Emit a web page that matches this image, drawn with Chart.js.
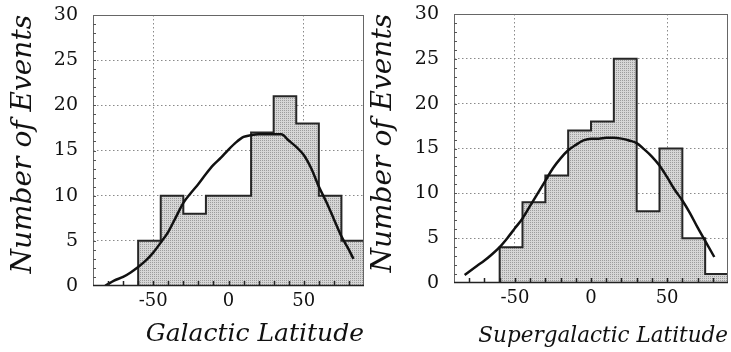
<!DOCTYPE html>
<html>
<head>
<meta charset="utf-8">
<script src="https://cdn.jsdelivr.net/npm/chart.js@4/dist/chart.umd.min.js"></script>
<style>
  html, body { margin: 0; padding: 0; background: #fff; }
  #wrap { position: relative; width: 731px; height: 352px; }
  canvas { position: absolute; top: 0; }
</style>
</head>
<body>
<div id="wrap">
  <canvas id="galChart" width="366" height="352" style="left:0"></canvas>
  <canvas id="sgChart" width="365" height="352" style="left:366px"></canvas>
</div>
<script>
// Histogram bins (15 degree wide), left edges plus final right edge
const binEdges = [-90, -75, -60, -45, -30, -15, 0, 15, 30, 45, 60, 75, 90];
const galCounts = [0, 0, 5, 10, 8, 10, 10, 17, 21, 18, 10, 5];
const sgCounts = [0, 0, 4, 9, 12, 17, 18, 25, 8, 15, 5, 1];

// Expected distribution curves
const galFitX = [-82, -76, -70, -65, -60, -55, -50, -45, -40, -35, -30, -25, -20, -15, -10, -5, 0, 5, 10, 15, 20, 25, 30, 35, 40, 45, 50, 55, 60, 65, 70, 75, 80, 83];
const galFitY = [0, 0.6, 1.0, 1.5, 2.1, 2.8, 3.7, 4.8, 6.0, 7.6, 9.2, 10.3, 11.3, 12.4, 13.4, 14.2, 15.1, 15.9, 16.5, 16.7, 16.8, 16.8, 16.8, 16.8, 16.1, 15.4, 14.5, 13.0, 11.0, 9.3, 7.4, 5.5, 4.0, 3.0];
const sgFitX = [-83, -75, -70, -65, -60, -55, -50, -45, -40, -35, -30, -25, -20, -15, -10, -5, 0, 5, 10, 15, 20, 25, 30, 35, 40, 45, 50, 55, 60, 65, 70, 75, 81];
const sgFitY = [0.9, 1.9, 2.5, 3.2, 4.0, 5.0, 6.1, 7.2, 8.6, 10.0, 11.4, 12.8, 13.9, 14.8, 15.4, 15.9, 16.1, 16.1, 16.2, 16.2, 16.1, 15.9, 15.6, 14.9, 14.1, 13.1, 11.8, 10.4, 9.2, 7.8, 6.2, 4.7, 2.9];

// Axis ticks
const xTickValues = [-50, 0, 50];
const xMinorTicks = [-80, -70, -60, -50, -40, -30, -20, -10, 0, 10, 20, 30, 40, 50, 60, 70, 80];
const yMinorTicks = Array.from({ length: 29 }, (_, i) => i + 1);

// stippled grey fill like the printed figure
function stipple() {
  const c = document.createElement("canvas");
  c.width = 2; c.height = 2;
  const g = c.getContext("2d");
  g.fillStyle = "#d6d6d6";
  g.fillRect(0, 0, 2, 2);
  g.fillStyle = "#9c9c9c";
  g.fillRect(0, 0, 1, 1);
  return g.createPattern(c, "repeat");
}

// frame around the plot plus the small inward ticks
const framePlugin = {
  id: "frame",
  afterDatasetsDraw(chart) {
    const { ctx, chartArea: a, scales } = chart;
    ctx.save();
    ctx.strokeStyle = "#666";
    ctx.lineWidth = 1;
    ctx.strokeRect(a.left + 0.5, a.top + 0.5, a.right - a.left - 1, a.bottom - a.top - 1);

    ctx.strokeStyle = "#555";
    ctx.beginPath();
    yMinorTicks.forEach(v => {
      const y = Math.round(scales.y.getPixelForValue(v)) + 0.5;
      ctx.moveTo(a.left, y);
      ctx.lineTo(a.left + 3, y);
    });
    ctx.stroke();

    ctx.strokeStyle = "#222";
    ctx.lineWidth = 1.5;
    ctx.beginPath();
    xMinorTicks.forEach(v => {
      const x = Math.round(scales.x.getPixelForValue(v)) + 0.5;
      ctx.moveTo(x, a.bottom);
      ctx.lineTo(x, a.bottom - 5);
    });
    ctx.moveTo(a.left, a.bottom - 0.5);
    ctx.lineTo(a.right, a.bottom - 0.5);
    ctx.stroke();
    ctx.restore();
  }
};

function makeChart(id, counts, fitX, fitY, xTitle, opt) {
  const histData = binEdges.map((x, i) => ({ x, y: i < counts.length ? counts[i] : counts[counts.length - 1] }));
  const fitData = fitX.map((x, i) => ({ x, y: fitY[i] }));
  const gridColor = c => (c.tick.value === 0 || c.tick.value === 30) ? "rgba(0,0,0,0)" : "#8a8a8a";

  return new Chart(document.getElementById(id), {
    type: "line",
    data: {
      datasets: [
        {
          data: fitData,
          borderColor: "#111",
          borderWidth: 2.5,
          pointRadius: 0,
          cubicInterpolationMode: "monotone",
          fill: false
        },
        {
          data: histData,
          stepped: true,
          borderColor: "#262626",
          borderWidth: 2,
          pointRadius: 0,
          fill: "origin",
          backgroundColor: stipple()
        }
      ]
    },
    options: {
      responsive: false,
      animation: false,
      devicePixelRatio: 1,
      layout: { padding: { top: opt.top, right: opt.right, left: 0, bottom: 0 } },
      plugins: { legend: { display: false }, tooltip: { enabled: false } },
      scales: {
        x: {
          type: "linear",
          min: -90,
          max: 90,
          afterBuildTicks: s => { s.ticks = xTickValues.map(v => ({ value: v })); },
          afterFit: s => { s.height = opt.xHeight; },
          grid: { color: gridColor, lineWidth: 1, drawTicks: false },
          border: { display: false, dash: [1.5, 2.5] },
          ticks: { font: { family: "DejaVu Serif", size: 18 }, color: "#111", padding: 5, maxRotation: 0 },
          title: {
            display: true,
            text: xTitle,
            align: "end",
            color: "#111",
            font: { family: "DejaVu Serif", style: "italic", size: opt.xTitleSize },
            padding: { top: 0, bottom: 3 }
          }
        },
        y: {
          min: 0,
          max: 30,
          // fixed width, and no extra top room so layout.padding sets the plot top
          afterFit: s => { s.width = opt.yWidth; s.paddingTop = 0; },
          grid: { color: gridColor, lineWidth: 1, drawTicks: false },
          border: { display: false, dash: [1.5, 2.5] },
          ticks: { stepSize: 5, font: { family: "DejaVu Serif", size: 19 }, color: "#111", padding: 15 },
          title: {
            display: true,
            text: "Number of Events",
            align: "end",
            color: "#111",
            font: { family: "DejaVu Serif", style: "italic", size: 28 },
            padding: { top: opt.titlePad, bottom: 0 }
          }
        }
      }
    },
    plugins: [framePlugin]
  });
}

makeChart("galChart", galCounts, galFitX, galFitY, "Galactic Latitude",
  { top: 15, right: 2, xHeight: 66, yWidth: 93, titlePad: 7, xTitleSize: 25 });
makeChart("sgChart", sgCounts, sgFitX, sgFitY, "Supergalactic Latitude",
  { top: 14, right: 3, xHeight: 69, yWidth: 88, titlePad: 1, xTitleSize: 21.5 });
</script>
</body>
</html>
